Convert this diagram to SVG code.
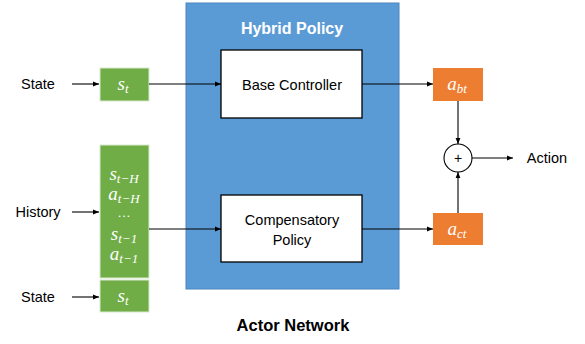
<svg xmlns="http://www.w3.org/2000/svg" width="585" height="344" viewBox="0 0 585 344">
<style>
.lbl{font-family:"Liberation Sans",Arial,sans-serif;font-size:14.5px;fill:#000}
.bold{font-family:"Liberation Sans",Arial,sans-serif;font-size:16px;font-weight:bold}
.math{font-family:"Liberation Serif","Times New Roman",serif;font-style:italic;font-size:19px;fill:#fff}
.sub{font-size:13px}
.green{fill:#70AD47;stroke:#D9E8CF;stroke-width:1}
.orange{fill:#ED7D31}
.wbox{fill:#fff;stroke:#000;stroke-width:1.3}
.conn line{stroke:#000;stroke-width:1.1;marker-end:url(#ah)}
</style>
<defs>
<marker id="ah" viewBox="0 0 10 10" refX="10" refY="5" markerWidth="6" markerHeight="6" markerUnits="userSpaceOnUse" orient="auto">
<path d="M0,1 L10,5 L0,9 z" fill="#000"/>
</marker>
</defs>
<rect x="0" y="0" width="585" height="344" fill="#fff"/>

<g id="hybrid">
<rect x="186" y="3" width="213" height="286" fill="#5B9BD5" stroke="#4A86BF" stroke-width="1"/>
<text class="bold" x="292" y="34" text-anchor="middle" fill="#fff">Hybrid Policy</text>
</g>

<g id="state1">
<text class="lbl" x="38" y="89" text-anchor="middle">State</text>
</g>
<g id="st1">
<rect class="green" x="100" y="68" width="49" height="33"/>
<text class="math" x="123" y="90" text-anchor="middle">s<tspan class="sub" dy="3">t</tspan></text>
</g>

<g id="history">
<text class="lbl" x="38" y="217" text-anchor="middle">History</text>
</g>
<g id="hist">
<rect class="green" x="100" y="145" width="49" height="133"/>
<text class="math" x="124" y="180" text-anchor="middle">s<tspan class="sub" dy="3">t−H</tspan></text>
<text class="math" x="124" y="200" text-anchor="middle">a<tspan class="sub" dy="3">t−H</tspan></text>
<text class="math" x="124" y="217" text-anchor="middle" style="font-style:normal;font-size:13px">…</text>
<text class="math" x="124" y="240" text-anchor="middle">s<tspan class="sub" dy="3">t−1</tspan></text>
<text class="math" x="124" y="260" text-anchor="middle">a<tspan class="sub" dy="3">t−1</tspan></text>
</g>

<g id="state2">
<text class="lbl" x="38" y="302" text-anchor="middle">State</text>
</g>
<g id="st2">
<rect class="green" x="100" y="280" width="49" height="32"/>
<text class="math" x="123" y="302" text-anchor="middle">s<tspan class="sub" dy="3">t</tspan></text>
</g>

<g id="base">
<rect class="wbox" x="221" y="50" width="141" height="68"/>
<text class="lbl" x="292" y="90" text-anchor="middle">Base Controller</text>
</g>

<g id="comp">
<rect class="wbox" x="221" y="195" width="141" height="67"/>
<text class="lbl" x="292" y="225" text-anchor="middle">Compensatory</text>
<text class="lbl" x="292" y="245" text-anchor="middle">Policy</text>
</g>

<g id="abt">
<rect class="orange" x="433" y="68" width="50" height="33"/>
<text class="math" x="457" y="90" text-anchor="middle">a<tspan class="sub" dy="3">bt</tspan></text>
</g>

<g id="act">
<rect class="orange" x="433" y="213" width="50" height="32"/>
<text class="math" x="457" y="235" text-anchor="middle">a<tspan class="sub" dy="3">ct</tspan></text>
</g>

<g id="sum">
<circle cx="458" cy="158" r="14" fill="#fff" stroke="#000" stroke-width="1.1"/>
<text x="458" y="163" text-anchor="middle" style="font-family:'Liberation Sans',Arial,sans-serif;font-size:14px">+</text>
</g>

<g id="action">
<text class="lbl" x="547" y="163" text-anchor="middle">Action</text>
</g>

<g id="actor">
<text class="bold" x="293" y="331" text-anchor="middle" fill="#000" style="font-size:16.5px">Actor Network</text>
</g>

<g class="conn" id="connectors">
<line x1="72" y1="84" x2="99" y2="84"/>
<line x1="72" y1="212" x2="99" y2="212"/>
<line x1="72" y1="297" x2="99" y2="297"/>
<line x1="149" y1="84" x2="221" y2="84"/>
<line x1="149" y1="229" x2="221" y2="229"/>
<line x1="362" y1="84" x2="433" y2="84"/>
<line x1="362" y1="229" x2="433" y2="229"/>
<line x1="458" y1="101" x2="458" y2="144"/>
<line x1="458" y1="213" x2="458" y2="172"/>
<line x1="472" y1="158" x2="513" y2="158"/>
</g>
</svg>
